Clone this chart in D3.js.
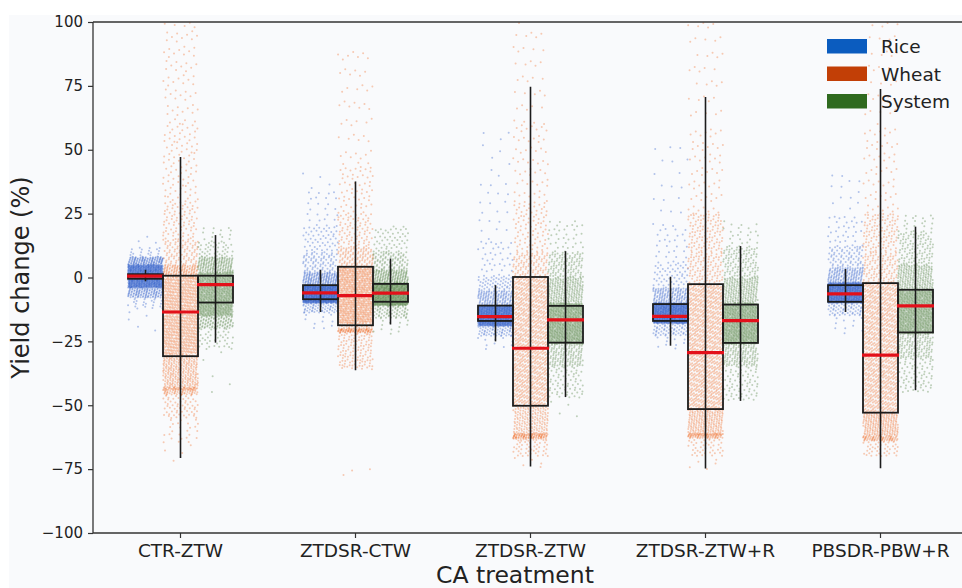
<!DOCTYPE html>
<html>
<head>
<meta charset="utf-8">
<script src="https://cdn.jsdelivr.net/npm/d3@7"></script>
<style>
  body { margin: 0; background: #fff; }
  text { font-family: "DejaVu Sans", sans-serif; fill: #222; }
</style>
</head>
<body>
<div id="chart"></div>
<script>
// categories and series
var categories = ['CTR-ZTW', 'ZTDSR-CTW', 'ZTDSR-ZTW', 'ZTDSR-ZTW+R', 'PBSDR-PBW+R'];
var series = ['Rice', 'Wheat', 'System'];
var yTicks = [-100, -75, -50, -25, 0, 25, 50, 75, 100];

// box stats per series, one entry per category: [whiskerLow, q1, median, q3, whiskerHigh]
var riceBox   = [[-1.5, -0.5, 0.5, 1.3, 3], [-13.5, -8.5, -6, -3, 3], [-25, -17, -15.3, -11, -3], [-26.7, -17, -15.2, -10.4, 0.3], [-13.5, -9.5, -6.4, -3, 3.3]];
var wheatBox  = [[-70.6, -30.8, -13.5, 0.7, 47.2], [-36.3, -18.7, -7.1, 4.2, 37.6], [-74, -50.2, -27.7, 0.2, 74.7], [-74.8, -51.5, -29.4, -2.6, 70.6], [-74.7, -52.9, -30.4, -2.2, 73.8]];
var systemBox = [[-25.5, -9.8, -2.8, 0.7, 16.6], [-18.4, -9.5, -6.1, -2.5, 7.4], [-46.8, -25.5, -16.6, -11.1, 10.3], [-48.3, -25.6, -16.9, -10.6, 12.3], [-44.1, -21.5, -11.1, -4.8, 19.9]];

// scatter density: [from, to, number of points]
var riceCloud = [
  [[-4, 5, 850], [5, 8, 120], [-8, -4, 120], [8, 12, 20], [-12, -8, 20], [-22, -12, 6], [12, 16, 3]],
  [[-10, -3, 800], [-3, 2, 170], [2, 10, 80], [10, 20, 50], [20, 35, 25], [35, 45, 4], [-14, -10, 60], [-20, -14, 10]],
  [[-19, -11, 800], [-11, -5, 140], [-5, 0, 50], [0, 15, 40], [15, 40, 20], [40, 57, 8], [-23, -19, 60], [-28, -23, 10]],
  [[-18, -10, 800], [-10, -4, 140], [-4, 5, 50], [5, 20, 30], [20, 55, 20], [-23, -18, 60], [-28, -23, 10]],
  [[-10, -2, 800], [-2, 4, 140], [4, 12, 70], [12, 25, 35], [25, 40, 12], [-15, -10, 60], [-22, -15, 10]]
];
var wheatCloud = [
  [[-30, 0, 800], [0, 5, 130], [-44, -30, 280], [-46, -43, 70], [-55, -46, 60], [-65, -55, 25], [-72, -65, 4], [5, 15, 90], [15, 30, 80], [30, 60, 90], [60, 100, 70]],
  [[-18, 4, 750], [-22, -18, 60], [-21.5, -20, 60], [-36, -22, 120], [4, 12, 110], [12, 25, 80], [25, 45, 60], [45, 90, 45], [-78, -74, 3]],
  [[-50, 0, 900], [-64, -50, 200], [-63, -61, 70], [-70, -64, 40], [-75, -70, 5], [0, 10, 100], [10, 30, 90], [30, 60, 55], [60, 100, 35]],
  [[-52, -3, 900], [-62, -52, 200], [-63, -61, 70], [-70, -63, 40], [-75, -70, 5], [-3, 10, 110], [10, 25, 110], [25, 60, 60], [60, 100, 35]],
  [[-53, -2, 900], [-62, -53, 200], [-64, -62, 70], [-70, -64, 40], [-2, 10, 110], [10, 25, 110], [25, 60, 60], [60, 100, 35]]
];
var systemCloud = [
  [[-15, 2, 800], [2, 8, 160], [-20, -15, 100], [8, 14, 40], [14, 20, 15], [-28, -20, 40], [-50, -28, 5]],
  [[-11, -2, 750], [-2, 3, 160], [3, 10, 90], [10, 20, 50], [-16, -11, 70], [-22, -16, 12]],
  [[-26, -10, 800], [-10, 0, 200], [0, 10, 110], [10, 22, 35], [-35, -26, 130], [-47, -35, 70], [-55, -47, 4]],
  [[-26, -10, 800], [-10, 0, 200], [0, 12, 110], [12, 22, 25], [-35, -26, 130], [-48, -35, 70]],
  [[-22, -5, 800], [-5, 5, 200], [5, 18, 110], [18, 25, 20], [-32, -22, 130], [-45, -32, 70]]
];

var boxes = [riceBox, wheatBox, systemBox];
var clouds = [riceCloud, wheatCloud, systemCloud];
var dotColor = ['#2356c6', '#f06a24', '#4a7a38'];
var legendColor = ['#0b5cbf', '#c23f06', '#2f6a1f'];

var width = 962, height = 588;
var margin = {top: 22, left: 93, bottom: 55};

var svg = d3.select('#chart').append('svg')
  .attr('width', width)
  .attr('height', height);

svg.append('rect').attr('x', 9).attr('y', 15).attr('width', width).attr('height', height)
  .attr('fill', '#f9fafc');

var x = d3.scaleBand().domain(categories).range([margin.left, margin.left + 5 * 175]);
var xs = d3.scaleBand().domain(series).range([-52.5, 52.5]);
var y = d3.scaleLinear().domain([-100, 100]).range([height - margin.bottom, margin.top]);

svg.append('clipPath').attr('id', 'plotclip')
  .append('rect').attr('x', margin.left).attr('y', margin.top)
  .attr('width', width - margin.left).attr('height', y(-100) - margin.top);

// jittered points, spread with a quasi-random R2 sequence (no random numbers)
var pts = [];
clouds.forEach(function(cloud, s) {
  cloud.forEach(function(segs, c) {
    var k = 0;
    segs.forEach(function(seg) {
      for (var j = 0; j < seg[2]; j++) {
        k++;
        var u = (0.5 + k * 0.7548776662 + s * 0.13) % 1;
        var v = (0.5 + k * 0.5698402910 + c * 0.29) % 1;
        pts.push({s: s, cat: categories[c], ser: series[s], u: u, val: seg[0] + (seg[1] - seg[0]) * v});
      }
    });
  });
});

svg.append('g').attr('clip-path', 'url(#plotclip)')
  .selectAll('circle').data(pts).enter().append('circle')
  .attr('cx', function(d) { return x(d.cat) + x.bandwidth() / 2 + xs(d.ser) + d.u * xs.bandwidth(); })
  .attr('cy', function(d) { return y(d.val); })
  .attr('r', 1)
  .attr('fill', function(d) { return dotColor[d.s]; })
  .attr('opacity', 0.34);

// boxes
var g = svg.append('g');
boxes.forEach(function(box, s) {
  box.forEach(function(b, c) {
    var x0 = x(categories[c]) + x.bandwidth() / 2 + xs(series[s]);
    var xm = x0 + xs.bandwidth() / 2;
    g.append('line').attr('x1', xm).attr('x2', xm).attr('y1', y(b[0])).attr('y2', y(b[4]))
      .attr('stroke', '#1c1c1c').attr('stroke-width', 1.6);
    g.append('rect').attr('x', x0).attr('y', y(b[3]))
      .attr('width', xs.bandwidth()).attr('height', y(b[1]) - y(b[3]))
      .attr('fill', 'none').attr('stroke', '#1c1c1c').attr('stroke-width', 1.8);
    g.append('line').attr('x1', x0 - 1).attr('x2', x0 + xs.bandwidth() + 1).attr('y1', y(b[2])).attr('y2', y(b[2]))
      .attr('stroke', '#e3101a').attr('stroke-width', 3.2);
  });
});

// axes
var yaxis = svg.append('g').attr('transform', 'translate(' + margin.left + ',0)')
  .call(d3.axisLeft(y).tickValues(yTicks).tickSize(5).tickPadding(5).tickFormat(function(d) { return String(d).replace('-', '\u2212'); }));
var xaxis = svg.append('g').attr('transform', 'translate(0,' + y(-100) + ')')
  .call(d3.axisBottom(x).tickSize(5).tickPadding(6));
[xaxis, yaxis].forEach(function(a) {
  a.select('.domain').remove();
  a.selectAll('line').attr('stroke', '#333').attr('stroke-width', 1.2);
  a.selectAll('text').style('font-size', '15px').attr('fill', '#222');
});
xaxis.selectAll('text').style('font-size', '18.5px');

svg.append('line').attr('x1', margin.left).attr('x2', margin.left).attr('y1', y(100)).attr('y2', y(-100))
  .attr('stroke', '#333').attr('stroke-width', 1.3);
svg.append('line').attr('x1', margin.left).attr('x2', width).attr('y1', y(-100)).attr('y2', y(-100))
  .attr('stroke', '#333').attr('stroke-width', 1.3);
svg.append('line').attr('x1', margin.left).attr('x2', width).attr('y1', y(100)).attr('y2', y(100))
  .attr('stroke', '#333').attr('stroke-width', 1.3);

svg.append('text').attr('transform', 'translate(29,' + y(0) + ') rotate(-90)')
  .attr('text-anchor', 'middle').style('font-size', '24px').text('Yield change (%)');
svg.append('text').attr('x', 515).attr('y', 583)
  .attr('text-anchor', 'middle').style('font-size', '23.5px').text('CA treatment');

// legend
var lg = svg.append('g').attr('transform', 'translate(827,39)');
series.forEach(function(s, i) {
  lg.append('rect').attr('x', 0).attr('y', i * 27.5).attr('width', 40).attr('height', 14.5)
    .attr('fill', legendColor[i]);
  lg.append('text').attr('x', 54).attr('y', i * 27.5 + 14).style('font-size', '18.5px').text(s);
});
</script>
</body>
</html>
